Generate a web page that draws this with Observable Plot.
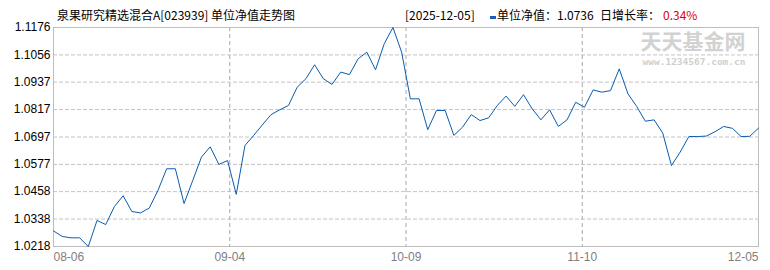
<!DOCTYPE html>
<html>
<head>
<meta charset="utf-8">
<script src="https://cdn.jsdelivr.net/npm/d3@7"></script>
<script src="https://cdn.jsdelivr.net/npm/@observablehq/plot@0.6"></script>
<style>
  html, body { margin: 0; padding: 0; background: #fff; }
  #wrap { width: 770px; height: 270px; position: relative; overflow: hidden; background: #fff; }
  #head { position: relative; z-index: 2; width: 770px; height: 16px; font-family: "Noto Sans CJK SC", "Noto Sans", sans-serif; font-size: 12px; color: #000; }
  #head span { position: absolute; top: 9px; line-height: 12px; white-space: nowrap; }
  #head .mark { top: 16px; width: 6px; height: 3px; background: #1a5fb4; }
  #chart { position: relative; z-index: 1; }
  #chart svg { display: block; }
</style>
</head>
<body>
<div id="wrap">
  <div id="head"></div>
  <div id="chart"></div>
</div>
<script>
// ---- data ----
const fundTitle = "泉果研究精选混合A[023939] 单位净值走势图";
const latestDate = "[2025-12-05]";
const latestLabel = "单位净值：1.0736";
const growthLabel = "日增长率：";
const growthValue = "0.34%";

const navValues = [
  1.0286, 1.0262, 1.0256, 1.0256, 1.0218, 1.0332, 1.0314, 1.0393, 1.0440, 1.0371,
  1.0365, 1.0386, 1.0463, 1.0558, 1.0558, 1.0406, 1.0507, 1.0609, 1.0654, 1.0577,
  1.0594, 1.0446, 1.0660, 1.0704, 1.0750, 1.0795, 1.0816, 1.0835, 1.0915, 1.0952,
  1.1013, 1.0952, 1.0927, 1.0981, 1.0970, 1.1039, 1.1068, 1.0991, 1.1105, 1.1176,
  1.1068, 1.0864, 1.0864, 1.0729, 1.0813, 1.0813, 1.0704, 1.0740, 1.0795, 1.0769,
  1.0781, 1.0835, 1.0876, 1.0831, 1.0882, 1.0820, 1.0772, 1.0816, 1.0743, 1.0772,
  1.0849, 1.0827, 1.0903, 1.0893, 1.0900, 1.0995, 1.0886, 1.0831, 1.0766, 1.0772,
  1.0714, 1.0572, 1.0631, 1.0699, 1.0699, 1.0701, 1.0720, 1.0743, 1.0735, 1.0699,
  1.0700, 1.0736
];

const xTickLabels = ["08-06", "09-04", "10-09", "11-10", "12-05"];
const yTicks = [1.0218, 1.0338, 1.0458, 1.0577, 1.0697, 1.0817, 1.0937, 1.1056, 1.1176];
const watermarkMain = "天天基金网";
const watermarkUrl = "www.1234567.com.cn";

// ---- header ----
const head = document.getElementById("head");
function addSpan(text, left, color, cls) {
  const s = document.createElement("span");
  if (cls) s.className = cls;
  s.textContent = text;
  s.style.left = left + "px";
  if (color) s.style.color = color;
  head.appendChild(s);
}
addSpan(fundTitle, 57);
addSpan(latestDate, 405);
addSpan("", 490, null, "mark");
addSpan(latestLabel, 497);
addSpan(growthLabel, 600);
addSpan(growthValue, 663, "#e00000");

// ---- chart ----
const n = navValues.length;
const xTickPos = xTickLabels.map((_, i) => i * (n - 1) / (xTickLabels.length - 1));
const labelOf = new Map(xTickPos.map((p, i) => [p, xTickLabels[i]]));
const data = navValues.map((v, i) => ({i, v}));
const font = "'Liberation Sans', Arial, sans-serif";

const chart = Plot.plot({
  width: 770,
  height: 254,
  marginTop: 11,
  marginBottom: 24,
  marginLeft: 53,
  marginRight: 12,
  style: {fontFamily: font, fontSize: "12px", background: "transparent", overflow: "visible"},
  x: {domain: [0, n - 1], label: null},
  y: {domain: [yTicks[0], yTicks[yTicks.length - 1]], label: null},
  marks: [
    Plot.text([watermarkMain], {frameAnchor: "top-right", dx: -13, dy: 7, text: d => d, fontSize: 21, fontWeight: "bold", fill: "#d2d2d2", textAnchor: "end", lineAnchor: "top", fontFamily: "'Noto Sans CJK SC', sans-serif"}),
    Plot.text([watermarkUrl], {frameAnchor: "top-right", dx: -13, dy: 31, text: d => d, fontSize: 9.5, fontWeight: "bold", fill: "#cfcfcf", textAnchor: "end", lineAnchor: "top", fontFamily: "'DejaVu Sans Mono', monospace"}),
    Plot.gridY(yTicks.slice(1, -1), {stroke: "#c4c4c4", strokeOpacity: 1, strokeDasharray: "4,2"}),
    Plot.gridX(xTickPos.slice(1, -1), {stroke: "#a8a8a8", strokeOpacity: 1, strokeDasharray: "4,3"}),
    Plot.frame({stroke: "#bdbdbd"}),
    Plot.line(data, {x: "i", y: "v", stroke: "#0a5cb0", strokeWidth: 1}),
    Plot.axisY(yTicks, {label: null, tickSize: 0, tickPadding: 3, tickFormat: d => d.toFixed(4), fill: "#000", fontSize: 12}),
    Plot.axisX([xTickPos[0]], {label: null, tickSize: 0, tickPadding: 6, tickFormat: d => labelOf.get(d), textAnchor: "start", fill: "#808080", fontSize: 12}),
    Plot.axisX(xTickPos.slice(1, -1), {label: null, tickSize: 0, tickPadding: 6, tickFormat: d => labelOf.get(d), fill: "#808080", fontSize: 12}),
    Plot.axisX([xTickPos[xTickPos.length - 1]], {label: null, tickSize: 0, tickPadding: 6, tickFormat: d => labelOf.get(d), textAnchor: "end", fill: "#808080", fontSize: 12})
  ]
});
document.getElementById("chart").appendChild(chart);
</script>
</body>
</html>
